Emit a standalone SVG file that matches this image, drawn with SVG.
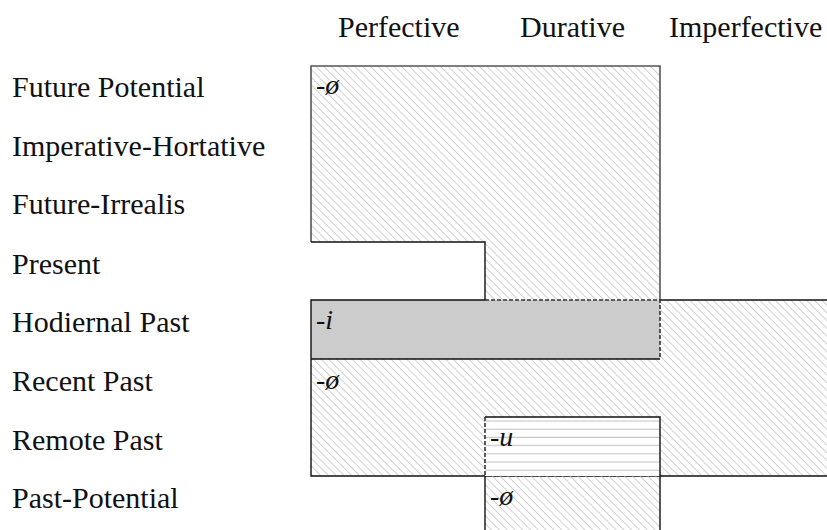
<svg xmlns="http://www.w3.org/2000/svg" width="827" height="530" viewBox="0 0 827 530">
  <style>
    .lbl { font-family: "Liberation Serif", "Times New Roman", serif; font-size: 30px; fill: #111; }
    .mrk { font-family: "Liberation Serif", "Times New Roman", serif; font-size: 28px; font-style: italic; fill: #111; }
    .edge { fill: none; stroke: #111; stroke-width: 1.4; }
    .soft { fill: none; stroke: #555; stroke-width: 1.6; }
    .dash { fill: none; stroke: #333; stroke-width: 1.6; stroke-dasharray: 4 2; }
  </style>
  <defs>
    <pattern id="diag" patternUnits="userSpaceOnUse" width="5.5" height="5.5" patternTransform="rotate(-45)">
      <line x1="0" y1="0" x2="0" y2="5.5" stroke="#b4b4b4" stroke-width="1.2"/>
    </pattern>
    <pattern id="horiz" patternUnits="userSpaceOnUse" width="10" height="8.2" y="417">
      <line x1="0" y1="4" x2="10" y2="4" stroke="#c8c8c8" stroke-width="1.2"/>
    </pattern>
  </defs>

  <rect width="827" height="530" fill="#fff"/>

  <!-- column headings -->
  <g id="columns">
    <text class="lbl" x="338" y="36.7">Perfective</text>
    <text class="lbl" x="520" y="36.7">Durative</text>
    <text class="lbl" x="669" y="36.7">Imperfective</text>
  </g>

  <!-- row headings -->
  <g id="rows">
    <text class="lbl" x="12" y="96.7">Future Potential</text>
    <text class="lbl" x="12" y="155.5">Imperative-Hortative</text>
    <text class="lbl" x="12" y="214.3">Future-Irrealis</text>
    <text class="lbl" x="12" y="273.6">Present</text>
    <text class="lbl" x="12" y="332.4">Hodiernal Past</text>
    <text class="lbl" x="12" y="391">Recent Past</text>
    <text class="lbl" x="12" y="449.8">Remote Past</text>
    <text class="lbl" x="12" y="508.3">Past-Potential</text>
  </g>

  <!-- non-past zero-marked block -->
  <g id="nonpast-zero">
    <path d="M311 66 H660 V300 H485 V242 H311 Z" fill="url(#diag)"/>
    <path class="soft" d="M311 242 V66 H660 V300"/>
    <path class="edge" d="M311 242 H485 V300"/>
    <text class="mrk" x="316" y="94">-ø</text>
  </g>

  <!-- past imperfective / recent-remote zero-marked block -->
  <g id="past-zero">
    <path d="M660 300 H827 V476 H311 V359 H660 Z" fill="url(#diag)"/>
    <path class="edge" d="M660 300 H827"/>
    <path class="edge" d="M311 359 V476 H827"/>
    <text class="mrk" x="316" y="389">-ø</text>
  </g>

  <!-- hodiernal past -i -->
  <g id="hodiernal-i">
    <rect x="311" y="300" width="349" height="59" fill="#cccccc"/>
    <path class="edge" d="M311 359 V300 H485"/>
    <path class="edge" d="M311 359 H660"/>
    <path class="dash" d="M485 300 H660 V359"/>
    <text class="mrk" x="316" y="329">-i</text>
  </g>

  <!-- remote past durative -u -->
  <g id="remote-u">
    <rect x="485" y="417" width="175" height="59" fill="#fff"/>
    <rect x="485" y="417" width="175" height="59" fill="url(#horiz)"/>
    <path class="edge" d="M485 417 H660 V476"/>
    <path class="dash" d="M485 417 V476"/>
    <text class="mrk" x="490" y="446">-u</text>
  </g>

  <!-- past-potential durative zero -->
  <g id="pastpot-zero">
    <rect x="485" y="476" width="175" height="56" fill="url(#diag)"/>
    <path class="edge" d="M485 476 V531 M660 476 V531"/>
    <text class="mrk" x="490" y="505">-ø</text>
  </g>
</svg>
